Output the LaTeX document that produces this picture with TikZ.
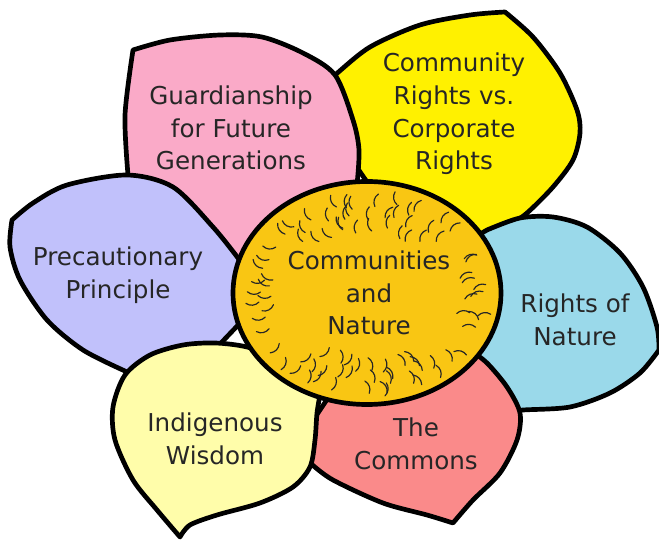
\documentclass[tikz,border=0pt]{standalone}
\usepackage{fontspec}
\usetikzlibrary{shapes, positioning}
\newfontfamily\petalfont{DejaVu Sans}
\definecolor{petal_pink}{RGB}{250, 170, 200}
\definecolor{petal_yellow}{RGB}{255, 241, 0}
\definecolor{petal_purple}{RGB}{193, 193, 251}
\definecolor{petal_blue}{RGB}{154, 217, 234}
\definecolor{petal_red}{RGB}{250, 138, 138}
\definecolor{petal_cream}{RGB}{255, 253, 170}
\definecolor{core_gold}{RGB}{249, 198, 19}
\tikzset {
  petal/.style = {draw, line width=4pt, line join=round},
  core/.style = {draw, line width=4pt, ellipse, fill=core_gold, minimum width=8.04cm, minimum height=6.69cm, inner sep=0pt},
  petaltext/.style = {font=\petalfont\fontsize{21}{28}\selectfont, align=center, text=black!85, inner sep=0pt},
  hatch/.style = {line width=1pt, line cap=round, black!85}
}

\begin{document}
\begin{tikzpicture}[x=0.03cm, y=-0.03cm]
    \useasboundingbox (0,0) rectangle (659,540);

    % petals, back to front
    \draw[petal, fill=petal_yellow] plot[smooth] coordinates {(505,12) (533,37) (560,73) (577,110) (580,133) (573,160) (553,187) (527,213) (507,227) (490,240)}
        -- (400,230) -- (345,150)
        -- plot[smooth] coordinates {(322,86) (335,75) (370,47) (420,25) (470,15) (505,12)} -- cycle;
    \draw[petal, fill=petal_pink] plot[smooth] coordinates {(133,50) (170,40) (220,35) (262,37) (303,53) (335,75) (353,120) (359,150) (357,185)}
        -- (340,230) -- (250,280) -- (170,230)
        -- plot[smooth] coordinates {(128,175) (125,115) (133,50)} -- cycle;
    \draw[petal, fill=petal_purple] plot[smooth] coordinates {(12,220) (33,203) (67,185) (127,175) (173,187) (213,227) (238,258)}
        -- (262,300) -- (200,365) -- (140,382)
        -- plot[smooth] coordinates {(125,371) (83,350) (47,320) (20,280) (10,247) (12,220)} -- cycle;
    \draw[petal, fill=petal_blue] (470,240)
        -- plot[smooth] coordinates {(487,230) (520,218) (553,217) (587,227) (620,253) (643,287) (657,327) (659,350)}
        -- plot[smooth] coordinates {(659,350) (640,373) (610,393) (570,407) (523,410) (505,412)}
        -- (490,400) -- (450,330) -- cycle;
    \draw[petal, fill=petal_red] (340,380) -- (300,440)
        -- plot[smooth] coordinates {(302,456) (310,463) (333,480) (383,503) (427,515) (453,523)}
        -- plot[smooth] coordinates {(453,523) (473,500) (500,473) (517,440) (520,413) (507,387) (487,363) (470,350)} -- cycle;
    \draw[petal, fill=petal_cream] plot[smooth] coordinates {(285,360) (247,347) (215,343) (183,345) (150,355) (125,375) (113,407) (115,440) (133,480) (157,510) (180,537)}
        -- plot[smooth] coordinates {(180,537) (190,525) (217,515) (260,503) (293,487) (310,467) (315,440) (317,413) (320,395)} -- cycle;

    % centre with its ring of strokes
    \node[core] (core) at (367,293) {};
    \pgfmathsetseed{11}
    \foreach \ring in {0.64, 0.75, 0.86} {
        \foreach \k in {1,...,42} {
            \pgfmathsetmacro{\ang}{\k*8.571+\ring*40+(rnd-0.5)*10}
            \pgfmathsetmacro{\fr}{\ring+(rnd-0.5)*0.08}
            \pgfmathsetmacro{\tilt}{\ang+(rnd-0.5)*50}
            \pgfmathsetmacro{\px}{367+134*\fr*cos(\ang)}
            \pgfmathsetmacro{\py}{293+111*\fr*sin(\ang)}
            \pgfmathtruncatemacro{\intext}{and(abs(\px-369)<94, abs(\py-293)<56)}
            \ifnum\intext=0
                \draw[hatch] (\px,\py) ++(\tilt:-6.5) to[bend left=40] ++(\tilt:13);
            \fi
        }
    }

    % labels
    \node[petaltext] (corename) at (369,293) {Communities\\and\\Nature};
    \node[petaltext] (guardian) at (231,128) {Guardianship\\for Future\\Generations};
    \node[petaltext] (corprights) at (454,114) {Community\\Rights vs.\\Corporate\\Rights};
    \node[petaltext] (precaution) at (118,275) {Precautionary\\Principle};
    \node[petaltext] (naturerights) at (575,320) {Rights of\\Nature};
    \node[petaltext] (commons) at (416,444) {The\\Commons};
    \node[petaltext] (wisdom) at (215,439) {Indigenous\\Wisdom};

\end{tikzpicture}
\end{document}
